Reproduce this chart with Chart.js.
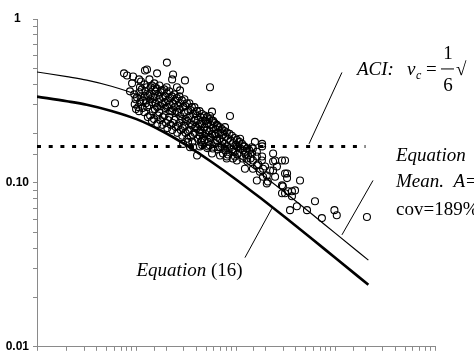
<!DOCTYPE html>
<html>
<head>
<meta charset="utf-8">
<script src="https://cdn.jsdelivr.net/npm/chart.js@4.4.0/dist/chart.umd.min.js"></script>
<style>
  html, body { margin: 0; padding: 0; background: #fff; overflow: hidden; }
  #wrap { width: 474px; height: 358px; }
</style>
</head>
<body>
<div id="wrap"><canvas id="chart" width="474" height="358"></canvas></div>
<script>
// values (log-log axes)
const curveX = [1, 2, 3.16, 5.6, 10, 17.8, 31.6, 56, 100, 178, 316, 562, 1000, 2140];
const eq16 = [0.336, 0.315, 0.300, 0.275, 0.245, 0.208, 0.170, 0.135, 0.105, 0.0805, 0.0613, 0.0463, 0.0348, 0.0239];
const eq17 = [0.475, 0.445, 0.424, 0.389, 0.346, 0.294, 0.240, 0.191, 0.148, 0.1138, 0.0867, 0.0655, 0.0492, 0.0338];
const aciX = [1, 2000];
const aciY = [0.167, 0.167];

const testX = [
  6.08, 7.49, 8.04, 9.24, 9.02, 8.60, 10.6, 10.84, 12.17, 12.75, 16.1, 20.2, 23.3, 22.8, 30.7, 54.8,
  20.1, 25.5, 27.4, 15.34, 11.1, 87.0, 77.5, 40.6, 57.4, 54.8, 155, 183, 148, 110, 119, 123,
  236, 247, 311, 183, 162, 196, 148, 174, 123, 128, 97.7, 102, 81, 236, 247, 209, 187, 311,
  326, 296, 333, 290, 365, 440, 392, 622, 409, 349, 517, 730, 975, 1030, 2070, 45.5, 50.9, 58.9,
  64.5, 61.5, 54.8, 45.5, 52.5, 43.5, 37.0, 33.0, 64.5, 66.0, 57.4, 162, 204, 290, 311, 365,
  258, 204, 236, 183, 29.4, 34.5, 40.6, 43.5, 72.4, 77.5, 69.1, 80.6, 93.3, 102, 144, 162, 220, 290, 326,
  9.5, 9.8, 9.6, 9.9,
  10.7, 11.0, 10.9, 10.6,
  12.0, 12.3, 12.1, 12.4, 12.0,
  13.5, 13.9, 13.6, 13.8, 13.4, 13.7,
  15.1, 15.6, 15.2, 15.5, 15.3, 15.0,
  17.0, 17.5, 17.1, 17.4, 16.9, 17.3,
  19.0, 19.6, 19.2, 19.5, 19.1, 19.8,
  21.4, 22.0, 21.5, 21.9, 21.3, 22.1,
  24.0, 24.7, 24.2, 24.6, 24.1, 24.8,
  27.0, 27.7, 27.2, 27.6, 27.0, 27.9,
  30.3, 31.0, 30.5, 31.2, 30.4, 31.1,
  34.0, 34.9, 34.2, 34.8, 34.1, 35.0,
  38.2, 39.2, 38.5, 39.0, 38.3,
  43.0, 44.0, 43.2, 43.9, 43.1, 44.2,
  48.2, 49.4, 48.5, 49.2, 48.3,
  54.0, 55.5, 54.3, 55.2, 54.5,
  61.0, 62.3, 60.8, 62.0,
  68.3, 69.8, 68.5, 69.5,
  76.5, 78.5, 77.0, 78.0,
  86.0, 88.0, 86.5,
  96.5, 99.0, 97.0,
  108, 111, 121, 125, 136, 140,
  10.1, 10.4,
  11.3, 11.7, 11.5,
  12.7, 13.1, 12.8, 13.0,
  14.3, 14.7, 14.4, 14.6, 14.3,
  16.0, 16.5, 16.1, 16.4, 16.2,
  18.0, 18.5, 18.1, 18.4, 18.2,
  20.2, 20.8, 20.3, 20.7, 20.4,
  22.7, 23.3, 22.8, 23.2, 22.9,
  25.5, 26.2, 25.6, 26.0, 25.7,
  28.6, 29.4, 28.8, 29.2, 28.9,
  32.1, 33.0, 32.3, 32.8, 32.4,
  36.0, 37.1, 36.2, 36.9, 36.4,
  40.5, 41.6, 40.7, 41.4,
  45.4, 46.7, 45.6, 46.5, 45.8,
  51.0, 52.4, 51.2, 52.2, 51.4,
  57.2, 58.8, 57.5, 58.5,
  64.3, 66.0, 64.6, 65.8,
  72.1, 74.2, 72.5, 73.9,
  81.0, 83.3, 81.4, 82.9,
  91.0, 93.5, 91.4, 93.0,
  102, 105, 103,
  115, 118, 116,
  129, 132, 130,
  145, 148,
  162, 167,
  182, 187
];
const testY = [
  0.306, 0.466, 0.452, 0.446, 0.405, 0.362, 0.428, 0.383, 0.485, 0.492, 0.466, 0.542, 0.459, 0.428, 0.422, 0.383,
  0.383, 0.383, 0.367, 0.383, 0.416, 0.256, 0.219, 0.256, 0.272, 0.256, 0.178, 0.167, 0.162, 0.186, 0.167, 0.155,
  0.151, 0.137, 0.137, 0.145, 0.128, 0.126, 0.122, 0.117, 0.122, 0.141, 0.145, 0.137, 0.145, 0.119, 0.109, 0.102, 0.109, 0.114,
  0.107, 0.0953, 0.0889, 0.0864, 0.0889, 0.1035, 0.090, 0.0773, 0.0721, 0.0682, 0.0682, 0.0610, 0.0682, 0.0635, 0.0619, 0.229, 0.229, 0.239,
  0.222, 0.199, 0.191, 0.181, 0.167, 0.167, 0.165, 0.178, 0.181, 0.165, 0.151, 0.1035, 0.0993, 0.0966, 0.0864, 0.0829,
  0.126, 0.111, 0.135, 0.173, 0.173, 0.165, 0.147, 0.203, 0.167, 0.162, 0.147, 0.141, 0.155, 0.167, 0.165, 0.155, 0.119, 0.137, 0.114,
  0.347, 0.324, 0.302, 0.282,
  0.357, 0.333, 0.311, 0.274,
  0.399, 0.362, 0.337, 0.306, 0.270,
  0.428, 0.383, 0.347, 0.324, 0.298, 0.258,
  0.405, 0.362, 0.333, 0.306, 0.282, 0.245,
  0.393, 0.357, 0.324, 0.294, 0.270, 0.242,
  0.372, 0.337, 0.311, 0.286, 0.258, 0.232,
  0.362, 0.329, 0.302, 0.274, 0.252, 0.226,
  0.347, 0.319, 0.290, 0.267, 0.242, 0.219,
  0.337, 0.306, 0.282, 0.256, 0.232, 0.210,
  0.324, 0.294, 0.270, 0.245, 0.222, 0.202,
  0.306, 0.278, 0.256, 0.232, 0.210, 0.191,
  0.290, 0.263, 0.242, 0.219, 0.202,
  0.274, 0.252, 0.229, 0.210, 0.194, 0.178,
  0.258, 0.239, 0.219, 0.199, 0.183,
  0.245, 0.226, 0.207, 0.188, 0.170,
  0.232, 0.213, 0.194, 0.175,
  0.219, 0.202, 0.186, 0.165,
  0.207, 0.191, 0.173, 0.158,
  0.199, 0.181, 0.162,
  0.188, 0.170, 0.155,
  0.178, 0.162, 0.167, 0.149, 0.158, 0.141,
  0.333, 0.290,
  0.372, 0.319, 0.286,
  0.383, 0.342, 0.290, 0.252,
  0.393, 0.337, 0.311, 0.274, 0.239,
  0.377, 0.342, 0.290, 0.258, 0.229,
  0.367, 0.333, 0.302, 0.252, 0.226,
  0.352, 0.319, 0.290, 0.242, 0.216,
  0.337, 0.306, 0.274, 0.232, 0.210,
  0.329, 0.298, 0.270, 0.222, 0.202,
  0.319, 0.290, 0.245, 0.216, 0.194,
  0.306, 0.274, 0.239, 0.207, 0.186,
  0.290, 0.263, 0.226, 0.197, 0.178,
  0.274, 0.242, 0.216, 0.186,
  0.263, 0.239, 0.203, 0.188, 0.170,
  0.252, 0.232, 0.210, 0.178, 0.163,
  0.239, 0.216, 0.199, 0.162,
  0.226, 0.203, 0.183, 0.160,
  0.213, 0.197, 0.178, 0.151,
  0.203, 0.186, 0.167, 0.149,
  0.194, 0.175, 0.160, 0.141,
  0.183, 0.165, 0.149,
  0.173, 0.158, 0.141,
  0.162, 0.147, 0.135,
  0.151, 0.137,
  0.145, 0.130,
  0.137, 0.122
];

const yTickVals = [1, 0.1, 0.01];
const yTickText = ['1', '0.10', '0.01'];

// leader lines, in data units: [x1, y1, x2, y2]
const leaders = [
  [1161, 0.472, 542, 0.173],
  [2382, 0.1035, 1161, 0.0482],
  [230, 0.0701, 123, 0.035]
];

const serif = "'Liberation Serif', 'Times New Roman', serif";
const axisGrey = '#8a8a8a';

const notes = {
  id: 'notes',
  afterDatasetsDraw(chart) {
    const ctx = chart.ctx, xs = chart.scales.x, ys = chart.scales.y;
    const P = (x, y) => [xs.getPixelForValue(x), ys.getPixelForValue(y)];
    ctx.save();
    ctx.strokeStyle = '#000';
    ctx.fillStyle = '#000';
    ctx.lineWidth = 1;
    leaders.forEach(l => {
      const a = P(l[0], l[1]), b = P(l[2], l[3]);
      ctx.beginPath();
      ctx.moveTo(a[0], a[1]);
      ctx.lineTo(b[0], b[1]);
      ctx.stroke();
    });
    ctx.textBaseline = 'alphabetic';
    ctx.textAlign = 'left';

    // ACI:  v_c = 1/6 sqrt
    let [x, y] = P(1644, 0.4525);
    ctx.font = 'italic 19px ' + serif;
    ctx.fillText('ACI:', x, y);
    ctx.fillText('v', x + 50, y);
    ctx.font = 'italic 12px ' + serif;
    ctx.fillText('c', x + 59, y + 4);
    ctx.font = '19px ' + serif;
    ctx.fillText('=', x + 69, y);
    ctx.textAlign = 'center';
    ctx.fillText('1', x + 91, y - 16);
    ctx.fillText('6', x + 91, y + 16);
    ctx.beginPath();
    ctx.moveTo(x + 84, y - 6.5);
    ctx.lineTo(x + 97, y - 6.5);
    ctx.stroke();
    ctx.textAlign = 'left';
    ctx.fillText('\u221A', x + 99, y);

    // Equation (17)
    [x, y] = P(4055, 0.1368);
    ctx.font = 'italic 19px ' + serif;
    ctx.fillText('Equation', x, y);
    let w = ctx.measureText('Equation').width;
    ctx.font = '19px ' + serif;
    ctx.fillText('  (17)', x + w, y);

    [x, y] = P(4055, 0.0939);
    ctx.font = 'italic 19px ' + serif;
    ctx.fillText('Mean.  A', x, y);
    w = ctx.measureText('Mean.  A').width;
    ctx.font = '19px ' + serif;
    ctx.fillText('=', x + w + 1, y);

    [x, y] = P(4055, 0.0636);
    ctx.fillText('cov=189%', x, y);

    // Equation (16)
    [x, y] = P(10, 0.0272);
    ctx.font = 'italic 19px ' + serif;
    ctx.fillText('Equation', x, y);
    w = ctx.measureText('Equation').width;
    ctx.font = '19px ' + serif;
    ctx.fillText(' (16)', x + w, y);
    ctx.restore();
  }
};

const pts = (xs, ys) => xs.map((x, i) => ({ x: x, y: ys[i] }));

new Chart(document.getElementById('chart'), {
  type: 'scatter',
  data: {
    datasets: [
      {
        data: pts(testX, testY),
        pointStyle: 'circle',
        pointRadius: 3.5,
        pointHoverRadius: 3.5,
        pointBorderWidth: 1.1,
        borderColor: '#000',
        backgroundColor: 'rgba(0,0,0,0)'
      },
      {
        type: 'line',
        data: pts(curveX, eq17),
        borderColor: '#000',
        borderWidth: 1.2,
        pointRadius: 0,
        cubicInterpolationMode: 'monotone',
        fill: false
      },
      {
        type: 'line',
        data: pts(curveX, eq16),
        borderColor: '#000',
        borderWidth: 2.6,
        pointRadius: 0,
        cubicInterpolationMode: 'monotone',
        fill: false
      },
      {
        type: 'line',
        data: pts(aciX, aciY),
        borderColor: '#000',
        borderWidth: 3,
        borderDash: [4, 7.7],
        borderCapStyle: 'butt',
        pointRadius: 0,
        fill: false
      }
    ]
  },
  options: {
    responsive: false,
    animation: false,
    devicePixelRatio: 1,
    layout: { padding: { top: 19, right: 39, bottom: 2, left: 0 } },
    plugins: { legend: { display: false }, tooltip: { enabled: false } },
    scales: {
      x: {
        type: 'logarithmic',
        min: 1,
        max: 10000,
        ticks: { display: false, autoSkip: false },
        grid: { drawOnChartArea: false, tickLength: 4, color: axisGrey },
        border: { color: axisGrey }
      },
      y: {
        type: 'logarithmic',
        min: 0.01,
        max: 1,
        afterFit(s) { s.width = 37; },
        ticks: {
          autoSkip: false,
          crossAlign: 'center',
          padding: 4,
          color: '#000',
          font: { family: "Arial, 'Liberation Sans', sans-serif", size: 12, weight: 'bold' },
          callback(v) {
            const i = yTickVals.findIndex(t => Math.abs(t - v) < t * 1e-6);
            return i >= 0 ? yTickText[i] : '';
          }
        },
        grid: { drawOnChartArea: false, tickLength: 4, color: axisGrey },
        border: { color: axisGrey }
      }
    }
  },
  plugins: [notes]
});
</script>
</body>
</html>
